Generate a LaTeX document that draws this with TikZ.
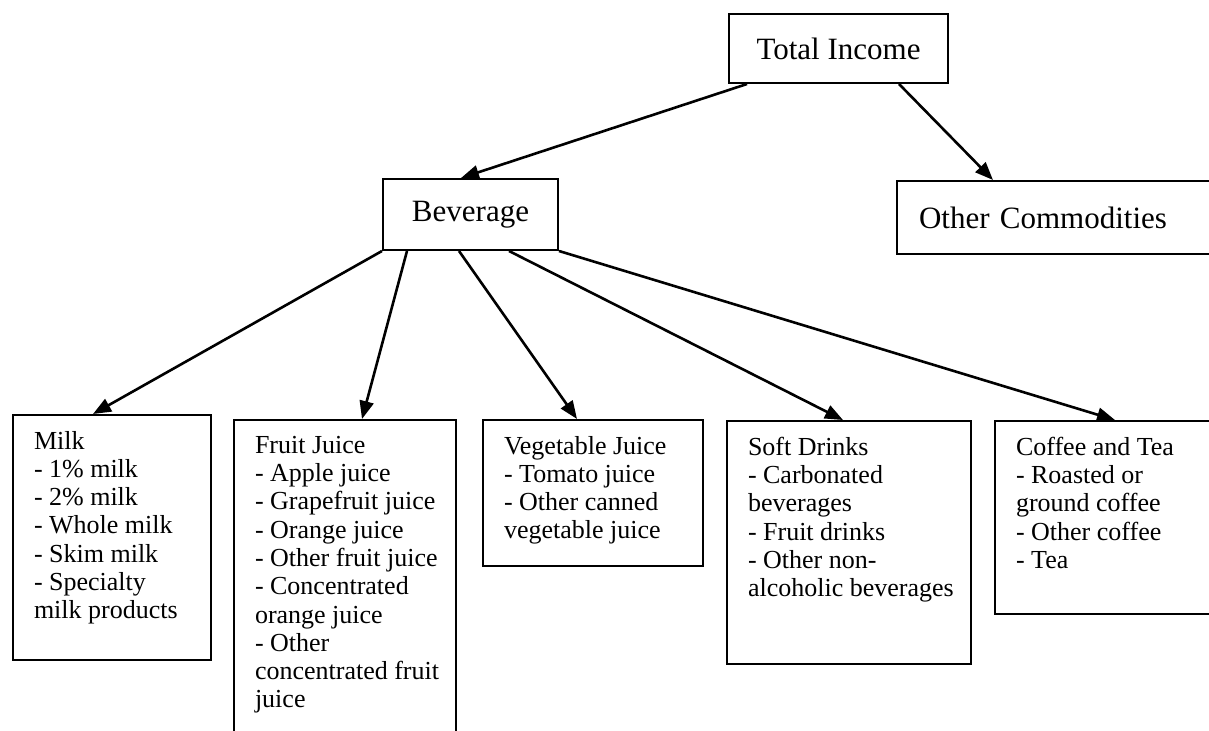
\documentclass[tikz,border=0pt]{standalone}
\usepackage{fontspec}
\setmainfont{Liberation Serif}
\usetikzlibrary{arrows.meta}

% list text inside a leaf box: width, height, lines
\newcommand{\catlist}[3]{\parbox[c][#2][t]{#1}{\raggedright\leftskip=10.5pt\relax
  \fontsize{13pt}{14.15pt}\selectfont\vspace*{8pt}#3}}

\begin{document}
\begin{tikzpicture}
  [x=0.5pt,y=-0.5pt,
   topbox/.style={draw,line width=1pt,font=\fontsize{15.5pt}{18pt}\selectfont},
   leafbox/.style={draw,line width=1pt,inner sep=0pt,anchor=north west}]
  \useasboundingbox (0,0) rectangle (1209,731);
  \clip (0,0) rectangle (1209,731);

  \node[topbox,minimum width=109.5pt,minimum height=34.5pt] (inc) at (838.5,48.5) {Total Income};
  \node[topbox,minimum width=87.5pt,minimum height=35.5pt] (bev) at (470.5,214.5) {Beverage};
  \node[topbox,anchor=north west,text width=150pt,align=left,inner xsep=11pt,
        minimum height=36.5pt] (oth) at (896,180) {Other Commodities};

  \node[leafbox] (milk) at (12,414) {\catlist{99pt}{122.5pt}{Milk\\- 1\% milk\\- 2\% milk\\- Whole milk\\- Skim milk\\- Specialty\\milk products}};
  \node[leafbox] (fruit) at (233,419) {\catlist{111pt}{170pt}{Fruit Juice\\- Apple juice\\- Grapefruit juice\\- Orange juice\\- Other fruit juice\\- Concentrated\\orange juice\\- Other\\concentrated fruit\\juice}};
  \node[leafbox] (veg) at (482,419) {\catlist{110pt}{73pt}{Vegetable Juice\\- Tomato juice\\- Other canned\\vegetable juice}};
  \node[leafbox] (soft) at (726,420) {\catlist{122pt}{121.5pt}{Soft Drinks\\- Carbonated\\beverages\\- Fruit drinks\\- Other non-\\alcoholic beverages}};
  \node[leafbox] (cof) at (994,420) {\catlist{120pt}{96.5pt}{Coffee and Tea\\- Roasted or\\ground coffee\\- Other coffee\\- Tea}};

  \foreach \from/\dx/\to/\dy in {inc.south west/9.5pt/bev.north west/39.5pt,
      inc.south east/-25pt/oth.north west/48.5pt,
      bev.south west/0pt/milk.north west/40.5pt,
      bev.south west/12.5pt/fruit.north west/64.5pt,
      bev.south west/38.5pt/veg.north west/47.5pt,
      bev.south west/63.5pt/soft.north west/58.5pt,
      bev.south east/0pt/cof.north west/60.5pt}
    \draw [line width=1.3pt,-{Triangle[length=9pt,width=7pt]}] ([xshift=\dx]\from) -- ([xshift=\dy]\to);

\end{tikzpicture}
\end{document}
